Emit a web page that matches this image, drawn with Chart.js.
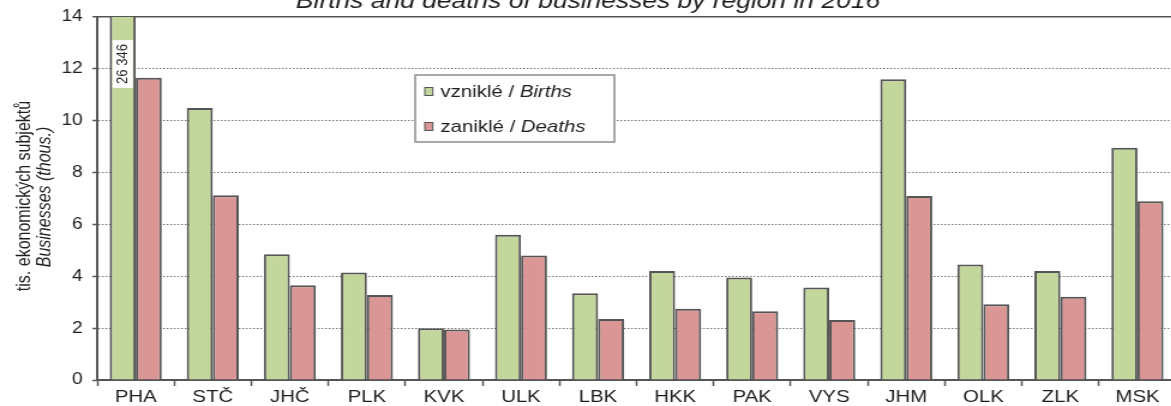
<!DOCTYPE html>
<html>
<head>
<meta charset="utf-8">
<script src="https://cdn.jsdelivr.net/npm/chart.js@4"></script>
<style>
  html, body { margin: 0; padding: 0; background: #fff; overflow: hidden; }
  #wrap { width: 1171px; height: 406px; overflow: hidden; position: relative; }
  /* the reference is stretched horizontally, so the chart is drawn narrower and scaled */
  #box { position: absolute; left: 0; top: -11px; width: 980px; height: 417px;
         transform: scaleX(1.2); transform-origin: 0 0; }
</style>
</head>
<body>
<div id="wrap"><div id="box"><canvas id="c"></canvas></div></div>
<script>
const regions = ["PHA", "STČ", "JHČ", "PLK", "KVK", "ULK", "LBK", "HKK", "PAK", "VYS", "JHM", "OLK", "ZLK", "MSK"];
const births = [26.346, 10.49, 4.85, 4.15, 2.0, 5.6, 3.35, 4.2, 3.95, 3.57, 11.6, 4.45, 4.2, 8.96];
const deaths = [11.66, 7.13, 3.65, 3.28, 1.95, 4.8, 2.35, 2.75, 2.65, 2.31, 7.1, 2.92, 3.21, 6.89];
const seriesNames = [["vzniklé / ", "Births"], ["zaniklé / ", "Deaths"]];
const seriesColors = ["#c3d69b", "#d99694"];
const yTicks = [0, 2, 4, 6, 8, 10, 12, 14];
const titleText = "Births and deaths of businesses by region in 2016";
const axisTitle = ["tis. ekonomických subjektů", "Businesses (thous.)"];
const phaLabel = "26 346";

const FONT = "'Liberation Sans', Arial, sans-serif";
const TEXT = "#1e1e1e";
const LINE = "#555555";

const extras = {
  id: "extras",
  afterDraw(chart) {
    const ctx = chart.ctx;
    const area = chart.chartArea;

    // y axis title, two rotated lines
    ctx.save();
    ctx.fillStyle = TEXT;
    ctx.textAlign = "center";
    ctx.textBaseline = "middle";
    ctx.translate(21, 207);
    ctx.rotate(-Math.PI / 2);
    ctx.font = "16px " + FONT;
    ctx.fillText(axisTitle[0], 0, 0);
    ctx.restore();
    ctx.save();
    ctx.fillStyle = TEXT;
    ctx.textAlign = "center";
    ctx.textBaseline = "middle";
    ctx.translate(38, 208);
    ctx.rotate(-Math.PI / 2);
    ctx.font = "italic 16px " + FONT;
    ctx.fillText(axisTitle[1], 0, 0);
    ctx.restore();

    // value label on the clipped Prague bar
    const bar = chart.getDatasetMeta(0).data[0];
    ctx.save();
    ctx.translate(bar.x, area.top + 47);
    ctx.rotate(-Math.PI / 2);
    ctx.font = "13px " + FONT;
    const tw = ctx.measureText(phaLabel).width;
    ctx.fillStyle = "#fff";
    ctx.fillRect(-tw / 2 - 4, -8.5, tw + 8, 17);
    ctx.fillStyle = TEXT;
    ctx.textAlign = "center";
    ctx.textBaseline = "middle";
    ctx.fillText(phaLabel, 0, 0.5);
    ctx.restore();

    // legend
    ctx.save();
    ctx.fillStyle = "#fff";
    ctx.fillRect(346, 86, 166, 67);
    ctx.strokeStyle = "#8c8c8c";
    ctx.lineWidth = 1.5;
    ctx.strokeRect(346, 86, 166, 67);
    const rows = [102.5, 137.5];
    rows.forEach((y, i) => {
      ctx.fillStyle = seriesColors[i];
      ctx.fillRect(354, y - 4, 6.7, 8);
      ctx.strokeStyle = LINE;
      ctx.lineWidth = 1;
      ctx.strokeRect(354, y - 4, 6.7, 8);
      ctx.fillStyle = TEXT;
      ctx.textBaseline = "middle";
      ctx.textAlign = "left";
      ctx.font = "17px " + FONT;
      ctx.fillText(seriesNames[i][0], 367, y + 1);
      const w = ctx.measureText(seriesNames[i][0]).width;
      ctx.font = "italic 17px " + FONT;
      ctx.fillText(seriesNames[i][1], 367 + w, y + 1);
    });
    ctx.restore();
  }
};

new Chart(document.getElementById("c"), {
  type: "bar",
  data: {
    labels: regions,
    datasets: [births, deaths].map((d, i) => ({
      label: seriesNames[i].join(""),
      data: d,
      backgroundColor: seriesColors[i],
      borderColor: LINE,
      borderWidth: 2,
      categoryPercentage: 0.675,
      barPercentage: 1.0
    }))
  },
  plugins: [extras],
  options: {
    responsive: true,
    maintainAspectRatio: false,
    animation: false,
    layout: { padding: 0 },
    plugins: {
      legend: { display: false },
      tooltip: { enabled: false },
      title: {
        display: true,
        text: titleText,
        color: TEXT,
        font: { family: FONT, size: 22, style: "italic", weight: "normal", lineHeight: 1.2 },
        padding: { top: 0, bottom: 1.6 }
      }
    },
    scales: {
      x: {
        offset: true,
        grid: { offset: true, drawOnChartArea: false, tickLength: 6, tickColor: LINE, tickWidth: 1.5 },
        border: { color: LINE, width: 2 },
        ticks: { color: TEXT, font: { family: FONT, size: 17 }, padding: 1, maxRotation: 0, autoSkip: false },
        afterFit: (s) => { s.height = 26; }
      },
      y: {
        min: 0,
        max: 14,
        afterBuildTicks: (s) => { s.ticks = yTicks.map((v) => ({ value: v })); },
        ticks: { color: TEXT, font: { family: FONT, size: 16 }, padding: 8 },
        grid: {
          color: (c) => (c.tick && c.tick.value === 14 ? LINE : "#6e6e6e"),
          lineWidth: (c) => (c.tick && c.tick.value === 14 ? 1.5 : 1),
          tickLength: 4,
          tickColor: LINE,
          tickWidth: 1.5
        },
        border: {
          color: LINE,
          width: 2,
          dash: (c) => (c.tick && (c.tick.value === 14 || c.tick.value === 0) ? [] : [1.4, 1.6])
        },
        afterFit: (s) => { s.width = 81; }
      }
    }
  }
});
</script>
</body>
</html>
